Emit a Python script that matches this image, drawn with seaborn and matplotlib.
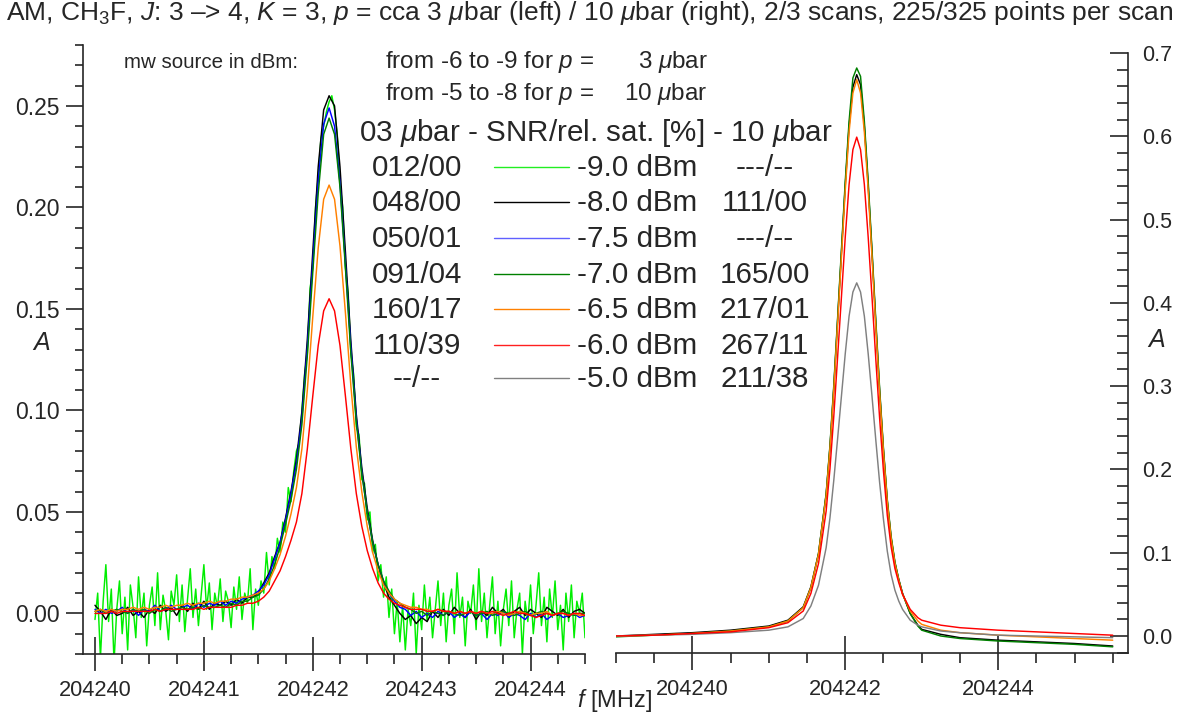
import numpy as np
import pandas as pd
import matplotlib
matplotlib.use("Agg")
import matplotlib.pyplot as plt
import seaborn as sns
from matplotlib.lines import Line2D
from matplotlib.ticker import MultipleLocator, FormatStrFormatter

# ---------------- data ----------------
# left panel: p = 3 ubar, frequency in MHz (uniform scan grids)
lime_m90 = [-0.003, 0.010, -0.022, 0.006, 0.024, -0.004, 0.012, -0.024, 0.002, 0.016,
            -0.010, 0.008, -0.018, 0.014, 0.003, -0.012, 0.018, -0.002, 0.010, -0.016,
            0.004, 0.013, -0.006, 0.020, -0.008, 0.009, 0.001, -0.013, 0.011, 0.004,
            0.019, -0.004, 0.014, -0.009, 0.007, 0.022, -0.002, 0.012, -0.006, 0.009,
            0.024, 0.002, 0.015, -0.008, 0.010, 0.003, 0.017, -0.004, 0.011, 0.006,
            -0.007, 0.013, 0.002, 0.018, -0.003, 0.010, 0.005, 0.022, -0.008, 0.012,
            0.004, 0.016, 0.010, 0.030, 0.014, 0.028, 0.022, 0.037, 0.030, 0.045,
            0.040, 0.062, 0.055, 0.070, 0.080, 0.084, 0.100, 0.118, 0.128, 0.160,
            0.170, 0.200, 0.215, 0.234, 0.240, 0.247, 0.252, 0.255, 0.248, 0.236,
            0.212, 0.200, 0.170, 0.158, 0.128, 0.118, 0.092, 0.088, 0.066, 0.064,
            0.046, 0.050, 0.030, 0.034, 0.016, 0.024, 0.008, 0.018, -0.002, 0.012,
            -0.010, 0.006, -0.014, 0.004, -0.018, 0.002, -0.006, 0.010, -0.020, 0.004,
            -0.008, 0.014, -0.004, 0.008, -0.012, 0.002, 0.016, -0.006, 0.010, -0.014,
            0.004, 0.012, -0.010, 0.020, -0.002, 0.008, -0.016, 0.006, 0.000, 0.014,
            -0.008, 0.022, -0.004, 0.010, -0.012, 0.004, 0.018, -0.010, 0.006, -0.016,
            0.002, 0.012, -0.006, 0.016, -0.012, 0.002, 0.010, -0.020, 0.006, -0.004,
            0.014, -0.010, 0.004, 0.020, -0.006, 0.008, -0.014, 0.012, -0.002, 0.016,
            -0.008, 0.004, -0.018, 0.010, -0.004, 0.014, -0.012, 0.006, 0.000, 0.010,
            -0.012]
black_m80 = [0.004, 0.001, -0.003, 0.002, -0.001, 0.000, 0.003, -0.001, 0.001, -0.002,
             0.002, 0.000, 0.004, 0.001, 0.003, -0.001, 0.004, 0.001, 0.005, 0.002,
             0.006, 0.002, 0.005, 0.004, 0.006, 0.004, 0.007, 0.005, 0.008, 0.008,
             0.010, 0.015, 0.020, 0.028, 0.035, 0.047, 0.060, 0.076, 0.099, 0.135,
             0.178, 0.220, 0.248, 0.255, 0.250, 0.220, 0.178, 0.134, 0.098, 0.072,
             0.052, 0.036, 0.024, 0.015, 0.008, 0.004, 0.000, -0.003, -0.001, -0.005,
             -0.002, -0.004, 0.001, -0.002, 0.002, -0.001, 0.003, 0.000, -0.002, 0.002,
             -0.003, 0.001, -0.001, 0.003, 0.000, 0.002, -0.002, 0.001, 0.003, -0.001,
             0.002, 0.000, -0.002, 0.003, 0.001, -0.001, 0.002, -0.002, 0.001, 0.002,
             0.000]
blue_m75 = [0.002, 0.000, 0.002, 0.000, 0.001, 0.003, 0.000, 0.002, -0.001, 0.002,
            0.001, 0.004, 0.001, 0.002, 0.004, 0.002, 0.003, 0.004, 0.002, 0.005,
            0.003, 0.005, 0.004, 0.006, 0.004, 0.006, 0.005, 0.007, 0.008, 0.009,
            0.011, 0.014, 0.019, 0.027, 0.035, 0.046, 0.059, 0.074, 0.096, 0.131,
            0.173, 0.213, 0.241, 0.249, 0.240, 0.212, 0.172, 0.131, 0.096, 0.070,
            0.050, 0.035, 0.024, 0.016, 0.010, 0.006, 0.003, 0.002, -0.001, 0.001,
            -0.002, 0.000, -0.002, 0.001, -0.001, 0.001, -0.002, 0.000, -0.002, 0.001,
            -0.001, 0.000, -0.003, 0.000, -0.001, 0.001, -0.002, 0.000, -0.001, -0.003,
            0.000, -0.002, 0.000, -0.003, -0.001, 0.000, -0.002, -0.001, 0.000, -0.002,
            -0.001]
green_m70 = [0.001, 0.002, 0.000, 0.001, 0.002, 0.001, 0.000, 0.002, 0.001, 0.002,
             0.000, 0.002, 0.001, 0.003, 0.001, 0.002, 0.003, 0.002, 0.003, 0.002,
             0.004, 0.003, 0.003, 0.004, 0.003, 0.005, 0.004, 0.006, 0.006, 0.008,
             0.009, 0.012, 0.017, 0.024, 0.033, 0.044, 0.056, 0.071, 0.093, 0.127,
             0.168, 0.207, 0.236, 0.244, 0.236, 0.210, 0.170, 0.128, 0.094, 0.069,
             0.050, 0.035, 0.024, 0.016, 0.011, 0.007, 0.005, 0.003, 0.002, 0.000,
             0.001, -0.001, 0.001, 0.000, -0.001, 0.001, 0.000, -0.001, 0.000, 0.001,
             -0.001, 0.000, 0.001, -0.001, 0.000, 0.001, 0.000, -0.001, 0.000, 0.001,
             -0.001, 0.000, 0.001, 0.000, -0.001, 0.000, 0.001, 0.000, -0.001, 0.000,
             0.000]
orange_m65 = [0.001, 0.002, 0.001, 0.002, 0.001, 0.002, 0.002, 0.003, 0.002, 0.003,
              0.002, 0.003, 0.003, 0.004, 0.003, 0.004, 0.004, 0.005, 0.004, 0.005,
              0.005, 0.006, 0.005, 0.006, 0.006, 0.007, 0.007, 0.008, 0.008, 0.009,
              0.010, 0.012, 0.016, 0.022, 0.029, 0.038, 0.049, 0.062, 0.081, 0.110,
              0.146, 0.180, 0.204, 0.211, 0.204, 0.181, 0.148, 0.112, 0.082, 0.060,
              0.043, 0.030, 0.021, 0.014, 0.010, 0.007, 0.005, 0.004, 0.003, 0.003,
              0.002, 0.002, 0.001, 0.002, 0.001, 0.001, 0.000, 0.001, 0.000, 0.001,
              0.000, 0.001, 0.000, 0.000, 0.001, 0.000, -0.001, 0.000, 0.001, 0.000,
              -0.001, 0.000, 0.000, 0.001, -0.001, 0.000, 0.000, -0.001, 0.000, -0.001,
              -0.001]
red_m60 = [0.000, 0.000, 0.000, 0.001, 0.000, 0.001, 0.001, 0.001, 0.001, 0.001,
           0.001, 0.002, 0.001, 0.002, 0.002, 0.002, 0.002, 0.002, 0.002, 0.003,
           0.002, 0.003, 0.003, 0.003, 0.003, 0.003, 0.004, 0.004, 0.005, 0.005,
           0.006, 0.008, 0.011, 0.016, 0.021, 0.028, 0.036, 0.045, 0.059, 0.081,
           0.107, 0.132, 0.149, 0.155, 0.149, 0.132, 0.107, 0.081, 0.059, 0.043,
           0.031, 0.022, 0.015, 0.010, 0.007, 0.005, 0.004, 0.003, 0.002, 0.002,
           0.002, 0.001, 0.001, 0.002, 0.001, 0.001, 0.000, 0.001, 0.000, 0.001,
           0.000, 0.001, 0.000, 0.001, 0.000, -0.001, 0.000, 0.001, 0.000, 0.000,
           -0.001, -0.002, -0.001, 0.000, -0.001, 0.000, 0.000, -0.001, 0.000, 0.000,
           -0.001]
x_lime = np.round(np.linspace(204240.0, 204244.5, len(lime_m90)), 4)
x_left = np.round(np.linspace(204240.0, 204244.5, len(black_m80)), 4)

# right panel: p = 10 ubar
x_right = [204239.0, 204239.5, 204240.0, 204240.5, 204241.0, 204241.25, 204241.45,
           204241.55, 204241.65, 204241.75, 204241.8, 204241.85, 204241.9, 204241.95,
           204242.0, 204242.05, 204242.1, 204242.15, 204242.2, 204242.25, 204242.3,
           204242.35, 204242.4, 204242.45, 204242.5, 204242.55, 204242.6, 204242.65,
           204242.7, 204242.75, 204242.85, 204242.95, 204243.0, 204243.25, 204243.5,
           204244.0, 204244.5, 204245.0, 204245.5]
black_r80 = [0.000, 0.002, 0.004, 0.007, 0.012, 0.019, 0.035, 0.059, 0.099, 0.170,
             0.227, 0.298, 0.379, 0.460, 0.541, 0.612, 0.659, 0.674, 0.662, 0.612,
             0.541, 0.460, 0.375, 0.294, 0.223, 0.162, 0.118, 0.088, 0.068, 0.051,
             0.027, 0.013, 0.008, 0.002, -0.002, -0.005, -0.007, -0.009, -0.012]
green_r70 = [-0.001, 0.001, 0.003, 0.006, 0.011, 0.018, 0.034, 0.058, 0.099, 0.171,
             0.229, 0.301, 0.382, 0.464, 0.546, 0.618, 0.670, 0.682, 0.672, 0.618,
             0.546, 0.464, 0.379, 0.297, 0.225, 0.164, 0.120, 0.089, 0.068, 0.051,
             0.027, 0.012, 0.007, 0.000, -0.003, -0.006, -0.008, -0.010, -0.013]
orange_r65 = [0.000, 0.001, 0.003, 0.006, 0.011, 0.018, 0.034, 0.058, 0.098, 0.168,
              0.225, 0.295, 0.375, 0.455, 0.535, 0.605, 0.652, 0.668, 0.652, 0.605,
              0.535, 0.455, 0.371, 0.291, 0.221, 0.161, 0.117, 0.087, 0.067, 0.050,
              0.030, 0.018, 0.014, 0.007, 0.004, 0.001, -0.001, -0.003, -0.005]
red_r60 = [0.000, 0.001, 0.003, 0.005, 0.010, 0.016, 0.030, 0.051, 0.087, 0.150,
           0.201, 0.264, 0.335, 0.407, 0.479, 0.542, 0.584, 0.599, 0.584, 0.542,
           0.479, 0.407, 0.332, 0.261, 0.198, 0.145, 0.107, 0.081, 0.064, 0.050,
           0.032, 0.022, 0.019, 0.013, 0.010, 0.007, 0.005, 0.003, 0.001]
gray_r50 = [0.000, 0.001, 0.002, 0.004, 0.007, 0.011, 0.021, 0.036, 0.061, 0.106,
            0.142, 0.187, 0.237, 0.288, 0.339, 0.384, 0.413, 0.424, 0.413, 0.384,
            0.339, 0.288, 0.235, 0.184, 0.140, 0.102, 0.074, 0.055, 0.042, 0.032,
            0.019, 0.013, 0.011, 0.006, 0.004, 0.001, 0.000, -0.001, -0.002]

power_labels = ["-9.0 dBm", "-8.0 dBm", "-7.5 dBm", "-7.0 dBm", "-6.5 dBm", "-6.0 dBm", "-5.0 dBm"]
snr_3ubar = ["012/00", "048/00", "050/01", "091/04", "160/17", "110/39", "--/--"]
snr_10ubar = ["---/--", "111/00", "---/--", "165/00", "217/01", "267/11", "211/38"]
colors = ["#00ee00", "#000000", "#0000ff", "#008000", "#ff8000", "#ff0000", "#808080"]
legend_colors = ["#22ee22", "#000000", "#6060ff", "#008000", "#ff8000", "#ff2020", "#808080"]
palette = dict(zip(power_labels, colors))

left_series = [("-9.0 dBm", x_lime, lime_m90), ("-8.0 dBm", x_left, black_m80),
               ("-7.5 dBm", x_left, blue_m75), ("-7.0 dBm", x_left, green_m70),
               ("-6.5 dBm", x_left, orange_m65), ("-6.0 dBm", x_left, red_m60)]
right_series = [("-8.0 dBm", x_right, black_r80), ("-7.0 dBm", x_right, green_r70),
                ("-6.5 dBm", x_right, orange_r65), ("-5.0 dBm", x_right, gray_r50),
                ("-6.0 dBm", x_right, red_r60)]

df_left = pd.concat([pd.DataFrame({"f": xs, "A": v, "power": k}) for k, xs, v in left_series])
df_right = pd.concat([pd.DataFrame({"f": xs, "A": v, "power": k}) for k, xs, v in right_series])

# ---------------- style ----------------
sns.set_style("ticks")
plt.rcParams["font.family"] = ["Liberation Sans", "DejaVu Sans"]
plt.rcParams["mathtext.fontset"] = "custom"
plt.rcParams["mathtext.rm"] = "Liberation Sans"
plt.rcParams["mathtext.it"] = "Liberation Sans:italic"
plt.rcParams["mathtext.bf"] = "Liberation Sans:bold"
plt.rcParams["axes.linewidth"] = 1.2

W, H = 1179, 715
fig = plt.figure(figsize=(W / 100, H / 100), dpi=100)

def px(x0, y0, x1, y1):
    return [x0 / W, 1 - y1 / H, (x1 - x0) / W, (y1 - y0) / H]

axL = fig.add_axes(px(83, 45, 585, 654))
axR = fig.add_axes(px(616, 53, 1128, 653))

sns.lineplot(data=df_left, x="f", y="A", hue="power", hue_order=[s[0] for s in left_series],
             palette=palette, estimator=None, sort=False, legend=False, linewidth=1.05, ax=axL)
sns.lineplot(data=df_right, x="f", y="A", hue="power", hue_order=[s[0] for s in right_series],
             palette=palette, estimator=None, sort=False, legend=False, linewidth=1.05, ax=axR)

XT_FS = 15.7
YT_FS = 16.5
# left axes
axL.set_xlim(204239.89, 204244.5)
axL.set_ylim(-0.02, 0.28)
axL.spines["top"].set_visible(False)
axL.spines["right"].set_visible(False)
axL.xaxis.set_major_locator(MultipleLocator(1))
axL.xaxis.set_minor_locator(MultipleLocator(0.25))
axL.xaxis.set_major_formatter(FormatStrFormatter("%d"))
axL.yaxis.set_major_locator(MultipleLocator(0.05))
axL.yaxis.set_minor_locator(MultipleLocator(0.01))
axL.yaxis.set_major_formatter(FormatStrFormatter("%.2f"))
axL.tick_params(axis="x", which="major", direction="inout", length=24, width=1.2, pad=7, labelsize=XT_FS)
axL.tick_params(axis="x", which="minor", direction="out", length=7, width=1.2)
axL.tick_params(axis="y", which="major", direction="out", length=12, width=1.2, pad=5, labelsize=YT_FS)
axL.tick_params(axis="y", which="minor", direction="out", length=6, width=1.2)
axL.set_xlabel("")
axL.set_ylabel("")

# right axes
axR.set_xlim(204239.0, 204245.7)
axR.set_ylim(-0.0204, 0.7)
axR.spines["top"].set_visible(False)
axR.spines["left"].set_visible(False)
axR.yaxis.tick_right()
axR.xaxis.set_major_locator(MultipleLocator(2))
axR.xaxis.set_minor_locator(MultipleLocator(0.5))
axR.xaxis.set_major_formatter(FormatStrFormatter("%d"))
axR.yaxis.set_major_locator(MultipleLocator(0.1))
axR.yaxis.set_minor_locator(MultipleLocator(0.02))
axR.yaxis.set_major_formatter(FormatStrFormatter("%.1f"))
axR.tick_params(axis="x", which="major", direction="inout", length=24, width=1.2, pad=7, labelsize=XT_FS)
axR.tick_params(axis="x", which="minor", direction="out", length=7, width=1.2)
axR.tick_params(axis="y", which="major", direction="in", length=13, width=1.2, pad=10, labelsize=15.5,
                left=False, right=True, labelleft=False, labelright=True)
axR.tick_params(axis="y", which="minor", direction="in", length=8, width=1.2, left=False, right=True)
axR.set_xlabel("")
axR.set_ylabel("")

def ftext(x, y, s, **kw):
    fig.text(x / W, 1 - y / H, s, **kw)

MU = r"$\mathit{\mu}$"
title = (r"AM, CH$_3$F, $J$: 3 –> 4, $K$ = 3, $p$ = cca 3 " + MU + "bar (left) / 10 " + MU +
         "bar (right), 2/3 scans, 225/325 points per scan")
ftext(590, 13, title, ha="center", va="center", fontsize=19)
ftext(124, 62, "mw source in dBm:", ha="left", va="center", fontsize=14.8)
ftext(385, 62, r"from -6 to -9 for $p$ =", ha="left", va="center", fontsize=17.5)
ftext(708, 62, "3 " + MU + "bar", ha="right", va="center", fontsize=17.5)
ftext(385, 94, r"from -5 to -8 for $p$ =", ha="left", va="center", fontsize=17.5)
ftext(708, 94, "10 " + MU + "bar", ha="right", va="center", fontsize=17.5)

LEG_FS = 21.3
ftext(596, 133, "03 " + MU + "bar - SNR/rel. sat. [%] - 10 " + MU + "bar", ha="center", va="center", fontsize=LEG_FS)
row_y = [168, 203, 239, 275, 310, 346, 379]
for yy, a, lab, b, c in zip(row_y, snr_3ubar, power_labels, snr_10ubar, legend_colors):
    ftext(417, yy, a, ha="center", va="center", fontsize=LEG_FS)
    fig.add_artist(Line2D([494 / W, 569 / W], [1 - (yy - 1) / H, 1 - (yy - 1) / H], color=c, lw=1.0))
    ftext(577, yy, lab, ha="left", va="center", fontsize=LEG_FS)
    ftext(765, yy, b, ha="center", va="center", fontsize=LEG_FS)

ftext(42, 343, "A", ha="center", va="center", fontsize=18, style="italic")
ftext(1157, 340, "A", ha="center", va="center", fontsize=18, style="italic")
ftext(615, 700, r"$f$ [MHz]", ha="center", va="center", fontsize=17)

fig.savefig("out.png", dpi=100)
